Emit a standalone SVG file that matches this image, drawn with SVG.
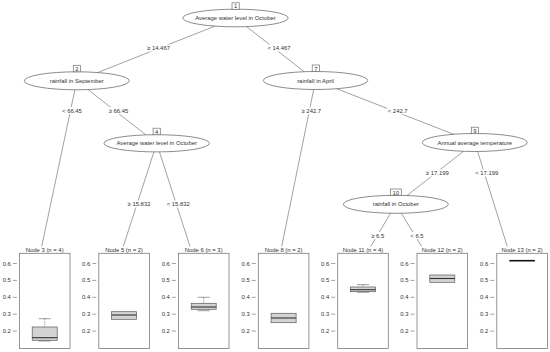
<svg xmlns="http://www.w3.org/2000/svg" width="550" height="352" viewBox="0 0 550 352">
<style>
text{font-family:"Liberation Sans",Arial,sans-serif;font-size:5.9px;fill:#333}
.mid{text-anchor:middle}
.end{text-anchor:end}
.edge{stroke:#8a8a8a;stroke-width:0.8;fill:none}
.lblbg{fill:#fff;stroke:none}
.ell{fill:#fff;stroke:#6e6e6e;stroke-width:0.8}
.idbox{fill:#fff;stroke:#6e6e6e;stroke-width:0.7}
.frame{fill:#fff;stroke:#7a7a7a;stroke-width:0.8}
.tick{stroke:#7a7a7a;stroke-width:0.7}
.bx{fill:#d3d3d3;stroke:#5a5a5a;stroke-width:0.7}
.med{stroke:#333;stroke-width:1.1}
.wh{stroke:#5a5a5a;stroke-width:0.6;stroke-dasharray:1.5 1}
.cap{stroke:#5a5a5a;stroke-width:0.6}
</style>
<rect width="550" height="352" fill="#fff"/>
<g id="connectors">
<line class="edge" x1="235.5" y1="18" x2="76.8" y2="80.8"/>
<line class="edge" x1="235.5" y1="18" x2="315.5" y2="80.5"/>
<line class="edge" x1="76.8" y1="80.8" x2="41.7" y2="246.5"/>
<line class="edge" x1="76.8" y1="80.8" x2="156.7" y2="143.3"/>
<line class="edge" x1="156.7" y1="143.3" x2="123.3" y2="246.5"/>
<line class="edge" x1="156.7" y1="143.3" x2="190" y2="246.5"/>
<line class="edge" x1="315.5" y1="80.5" x2="281.7" y2="246.5"/>
<line class="edge" x1="315.5" y1="80.5" x2="474.8" y2="142.5"/>
<line class="edge" x1="474.8" y1="142.5" x2="395.8" y2="204.3"/>
<line class="edge" x1="474.8" y1="142.5" x2="507.3" y2="246.5"/>
<line class="edge" x1="395.8" y1="204.3" x2="370.7" y2="246.5"/>
<line class="edge" x1="395.8" y1="204.3" x2="421.7" y2="246.5"/>
<rect class="lblbg" x="146.5" y="44.5" width="24" height="7"/>
<text class="mid" x="158.5" y="50.3">≥ 14.467</text>
<rect class="lblbg" x="267" y="44.5" width="24" height="7"/>
<text class="mid" x="279" y="50.3">&lt; 14.467</text>
<rect class="lblbg" x="61.5" y="107" width="21" height="7"/>
<text class="mid" x="72" y="112.8">&lt; 66.45</text>
<rect class="lblbg" x="108" y="107" width="21" height="7"/>
<text class="mid" x="118.5" y="112.8">≥ 66.45</text>
<rect class="lblbg" x="127" y="200.5" width="24" height="7"/>
<text class="mid" x="139" y="206.3">≥ 15.832</text>
<rect class="lblbg" x="166.3" y="200.5" width="24" height="7"/>
<text class="mid" x="178.3" y="206.3">&lt; 15.832</text>
<rect class="lblbg" x="300.8" y="107.3" width="21" height="7"/>
<text class="mid" x="311.3" y="113.1">≥ 242.7</text>
<rect class="lblbg" x="387.2" y="107.3" width="21" height="7"/>
<text class="mid" x="397.7" y="113.1">&lt; 242.7</text>
<rect class="lblbg" x="425.3" y="169.5" width="24" height="7"/>
<text class="mid" x="437.3" y="175.3">≥ 17.199</text>
<rect class="lblbg" x="474.7" y="169.5" width="24" height="7"/>
<text class="mid" x="486.7" y="175.3">&lt; 17.199</text>
<rect class="lblbg" x="370.7" y="232" width="14" height="7"/>
<text class="mid" x="377.7" y="237.8">≥ 6.5</text>
<rect class="lblbg" x="410" y="232" width="14" height="7"/>
<text class="mid" x="417" y="237.8">&lt; 6.5</text>
</g>
<g id="node1">
<ellipse class="ell" cx="235.5" cy="18" rx="52.7" ry="8.8"/>
<rect class="idbox" x="232" y="2.8" width="7.2" height="6.5"/>
<text class="mid" x="235.6" y="8.3">1</text>
<text class="mid" x="235.5" y="20">Average water level in October</text>
</g>
<g id="node2">
<ellipse class="ell" cx="76.8" cy="80.8" rx="52.5" ry="9"/>
<rect class="idbox" x="73.3" y="65.3" width="7.2" height="6.5"/>
<text class="mid" x="76.9" y="70.8">2</text>
<text class="mid" x="76.8" y="82.8">rainfall in September</text>
</g>
<g id="node4">
<ellipse class="ell" cx="156.7" cy="143.3" rx="52.7" ry="8.6"/>
<rect class="idbox" x="153.1" y="128.2" width="7.2" height="6.5"/>
<text class="mid" x="156.7" y="133.7">4</text>
<text class="mid" x="156.7" y="145.3">Average water level in October</text>
</g>
<g id="node7">
<ellipse class="ell" cx="315.5" cy="80.5" rx="52.2" ry="9"/>
<rect class="idbox" x="312.2" y="65" width="7.2" height="6.5"/>
<text class="mid" x="315.8" y="70.5">7</text>
<text class="mid" x="315.5" y="82.5">rainfall in April</text>
</g>
<g id="node9">
<ellipse class="ell" cx="474.8" cy="142.5" rx="52.5" ry="9"/>
<rect class="idbox" x="471.3" y="127.2" width="7.2" height="6.5"/>
<text class="mid" x="474.9" y="132.7">9</text>
<text class="mid" x="474.8" y="144.5">Annual average temperature</text>
</g>
<g id="node10">
<ellipse class="ell" cx="395.8" cy="204.3" rx="52.5" ry="9"/>
<rect class="idbox" x="390.3" y="189" width="11" height="6.5"/>
<text class="mid" x="395.8" y="194.5">10</text>
<text class="mid" x="395.8" y="206.3">rainfall in October</text>
</g>
<g id="node3">
<text class="mid" x="44.7" y="252">Node 3 (n = 4)</text>
<rect class="frame" x="19.4" y="253.3" width="50.6" height="95.2"/>
<line class="tick" x1="12.9" y1="263.5" x2="16.9" y2="263.5"/><text class="end" x="10.9" y="265.5">0.6</text>
<line class="tick" x1="12.9" y1="280.4" x2="16.9" y2="280.4"/><text class="end" x="10.9" y="282.4">0.5</text>
<line class="tick" x1="12.9" y1="297.3" x2="16.9" y2="297.3"/><text class="end" x="10.9" y="299.3">0.4</text>
<line class="tick" x1="12.9" y1="314.2" x2="16.9" y2="314.2"/><text class="end" x="10.9" y="316.2">0.3</text>
<line class="tick" x1="12.9" y1="331.1" x2="16.9" y2="331.1"/><text class="end" x="10.9" y="333.1">0.2</text>
<line class="wh" x1="44.7" y1="318.7" x2="44.7" y2="327"/>
<line class="cap" x1="38.7" y1="318.7" x2="50.7" y2="318.7"/>
<rect class="bx" x="32.2" y="327" width="25" height="13.3"/>
<line class="med" x1="32.2" y1="337.7" x2="57.2" y2="337.7"/>
<line class="cap" x1="38.7" y1="341" x2="50.7" y2="341"/>
</g>
<g id="node5">
<text class="mid" x="124.1" y="252">Node 5 (n = 2)</text>
<rect class="frame" x="98.8" y="253.3" width="50.6" height="95.2"/>
<line class="tick" x1="92.3" y1="263.5" x2="96.3" y2="263.5"/><text class="end" x="90.3" y="265.5">0.6</text>
<line class="tick" x1="92.3" y1="280.4" x2="96.3" y2="280.4"/><text class="end" x="90.3" y="282.4">0.5</text>
<line class="tick" x1="92.3" y1="297.3" x2="96.3" y2="297.3"/><text class="end" x="90.3" y="299.3">0.4</text>
<line class="tick" x1="92.3" y1="314.2" x2="96.3" y2="314.2"/><text class="end" x="90.3" y="316.2">0.3</text>
<line class="tick" x1="92.3" y1="331.1" x2="96.3" y2="331.1"/><text class="end" x="90.3" y="333.1">0.2</text>
<rect class="bx" x="111.6" y="311.7" width="25" height="7.6"/>
<line class="med" x1="111.6" y1="315" x2="136.6" y2="315"/>
</g>
<g id="node6">
<text class="mid" x="203.7" y="252">Node 6 (n = 3)</text>
<rect class="frame" x="178.4" y="253.3" width="50.6" height="95.2"/>
<line class="tick" x1="171.9" y1="263.5" x2="175.9" y2="263.5"/><text class="end" x="169.9" y="265.5">0.6</text>
<line class="tick" x1="171.9" y1="280.4" x2="175.9" y2="280.4"/><text class="end" x="169.9" y="282.4">0.5</text>
<line class="tick" x1="171.9" y1="297.3" x2="175.9" y2="297.3"/><text class="end" x="169.9" y="299.3">0.4</text>
<line class="tick" x1="171.9" y1="314.2" x2="175.9" y2="314.2"/><text class="end" x="169.9" y="316.2">0.3</text>
<line class="tick" x1="171.9" y1="331.1" x2="175.9" y2="331.1"/><text class="end" x="169.9" y="333.1">0.2</text>
<line class="wh" x1="203.7" y1="297.3" x2="203.7" y2="303.3"/>
<line class="cap" x1="197.7" y1="297.3" x2="209.7" y2="297.3"/>
<rect class="bx" x="191.2" y="303.3" width="25" height="6"/>
<line class="med" x1="191.2" y1="307" x2="216.2" y2="307"/>
<line class="cap" x1="197.7" y1="310.7" x2="209.7" y2="310.7"/>
</g>
<g id="node8">
<text class="mid" x="283.6" y="252">Node 8 (n = 2)</text>
<rect class="frame" x="258.3" y="253.3" width="50.6" height="95.2"/>
<line class="tick" x1="251.8" y1="263.5" x2="255.8" y2="263.5"/><text class="end" x="249.8" y="265.5">0.6</text>
<line class="tick" x1="251.8" y1="280.4" x2="255.8" y2="280.4"/><text class="end" x="249.8" y="282.4">0.5</text>
<line class="tick" x1="251.8" y1="297.3" x2="255.8" y2="297.3"/><text class="end" x="249.8" y="299.3">0.4</text>
<line class="tick" x1="251.8" y1="314.2" x2="255.8" y2="314.2"/><text class="end" x="249.8" y="316.2">0.3</text>
<line class="tick" x1="251.8" y1="331.1" x2="255.8" y2="331.1"/><text class="end" x="249.8" y="333.1">0.2</text>
<rect class="bx" x="271.1" y="313.3" width="25" height="9.4"/>
<line class="med" x1="271.1" y1="318" x2="296.1" y2="318"/>
</g>
<g id="node11">
<text class="mid" x="363" y="252">Node 11 (n = 4)</text>
<rect class="frame" x="337.7" y="253.3" width="50.6" height="95.2"/>
<line class="tick" x1="331.2" y1="263.5" x2="335.2" y2="263.5"/><text class="end" x="329.2" y="265.5">0.6</text>
<line class="tick" x1="331.2" y1="280.4" x2="335.2" y2="280.4"/><text class="end" x="329.2" y="282.4">0.5</text>
<line class="tick" x1="331.2" y1="297.3" x2="335.2" y2="297.3"/><text class="end" x="329.2" y="299.3">0.4</text>
<line class="tick" x1="331.2" y1="314.2" x2="335.2" y2="314.2"/><text class="end" x="329.2" y="316.2">0.3</text>
<line class="tick" x1="331.2" y1="331.1" x2="335.2" y2="331.1"/><text class="end" x="329.2" y="333.1">0.2</text>
<line class="wh" x1="363" y1="284.7" x2="363" y2="287"/>
<line class="cap" x1="357" y1="284.7" x2="369" y2="284.7"/>
<rect class="bx" x="350.5" y="287" width="25" height="4.7"/>
<line class="med" x1="350.5" y1="289.7" x2="375.5" y2="289.7"/>
<line class="cap" x1="357" y1="292.3" x2="369" y2="292.3"/>
</g>
<g id="node12">
<text class="mid" x="442.3" y="252">Node 12 (n = 2)</text>
<rect class="frame" x="417" y="253.3" width="50.6" height="95.2"/>
<line class="tick" x1="410.5" y1="263.5" x2="414.5" y2="263.5"/><text class="end" x="408.5" y="265.5">0.6</text>
<line class="tick" x1="410.5" y1="280.4" x2="414.5" y2="280.4"/><text class="end" x="408.5" y="282.4">0.5</text>
<line class="tick" x1="410.5" y1="297.3" x2="414.5" y2="297.3"/><text class="end" x="408.5" y="299.3">0.4</text>
<line class="tick" x1="410.5" y1="314.2" x2="414.5" y2="314.2"/><text class="end" x="408.5" y="316.2">0.3</text>
<line class="tick" x1="410.5" y1="331.1" x2="414.5" y2="331.1"/><text class="end" x="408.5" y="333.1">0.2</text>
<rect class="bx" x="429.8" y="275" width="25" height="7.3"/>
<line class="med" x1="429.8" y1="278.5" x2="454.8" y2="278.5"/>
</g>
<g id="node13">
<text class="mid" x="522.1" y="252">Node 13 (n = 2)</text>
<rect class="frame" x="496.8" y="253.3" width="50.6" height="95.2"/>
<line class="tick" x1="490.3" y1="263.5" x2="494.3" y2="263.5"/><text class="end" x="488.3" y="265.5">0.6</text>
<line class="tick" x1="490.3" y1="280.4" x2="494.3" y2="280.4"/><text class="end" x="488.3" y="282.4">0.5</text>
<line class="tick" x1="490.3" y1="297.3" x2="494.3" y2="297.3"/><text class="end" x="488.3" y="299.3">0.4</text>
<line class="tick" x1="490.3" y1="314.2" x2="494.3" y2="314.2"/><text class="end" x="488.3" y="316.2">0.3</text>
<line class="tick" x1="490.3" y1="331.1" x2="494.3" y2="331.1"/><text class="end" x="488.3" y="333.1">0.2</text>
<line class="med" x1="509.3" y1="260.7" x2="534.9" y2="260.7" style="stroke-width:1.6;stroke:#111"/>
</g>
</svg>
